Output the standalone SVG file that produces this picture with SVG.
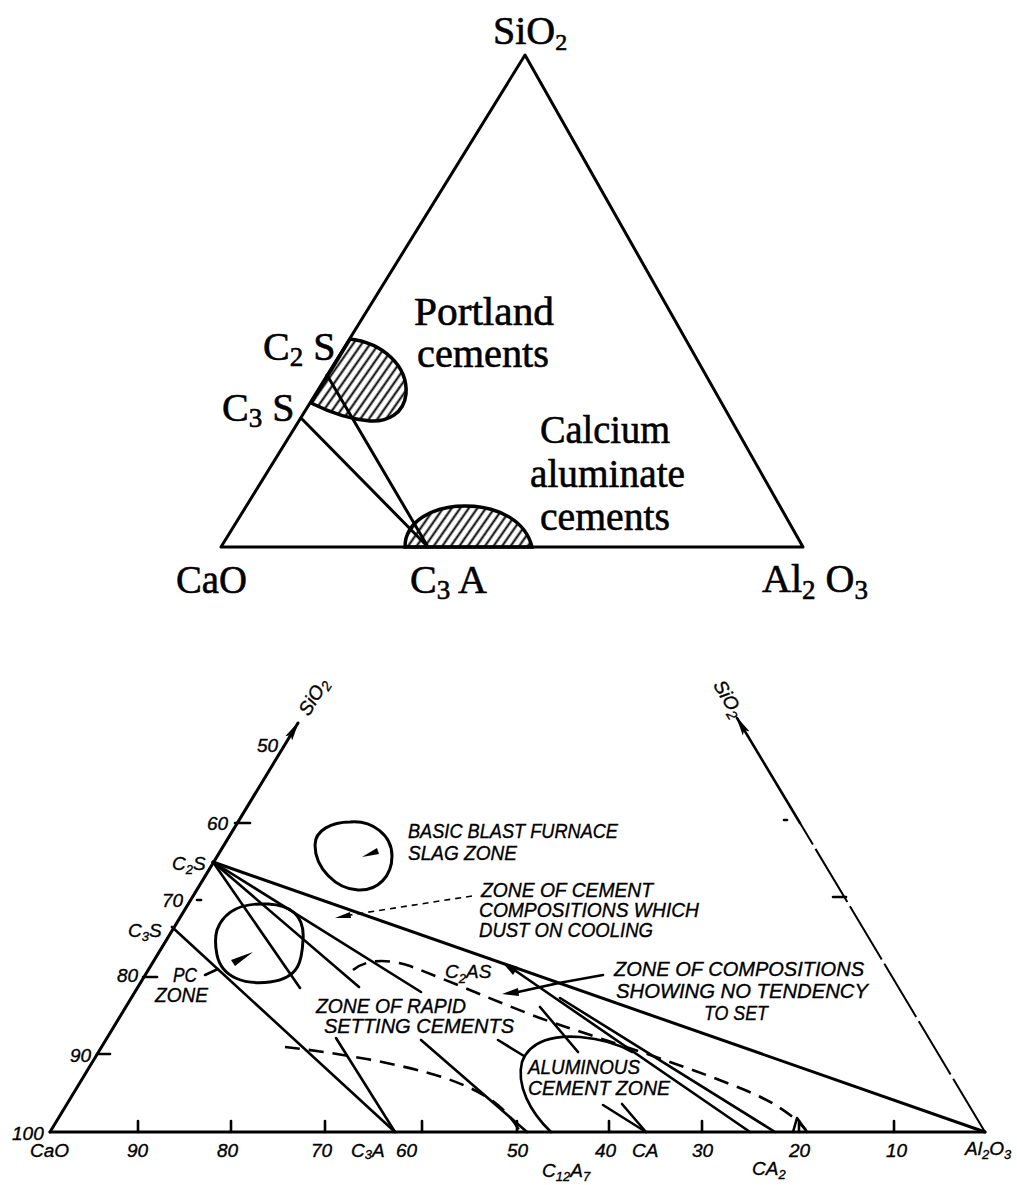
<svg xmlns="http://www.w3.org/2000/svg" width="1017" height="1185" viewBox="0 0 1017 1185">
<defs>
<style>
.serif{font-family:"Liberation Serif","Times New Roman",serif;font-size:40px;fill:#000;stroke:#000;stroke-width:0.6}
.hand{font-family:"Liberation Sans",Arial,sans-serif;font-style:italic;font-size:20px;fill:#000;stroke:#000;stroke-width:0.35}
.num{font-family:"Liberation Sans",Arial,sans-serif;font-style:italic;font-size:19px;fill:#000;stroke:#000;stroke-width:0.35}
.ln{stroke:#000;stroke-width:3;fill:none;stroke-linecap:round;stroke-linejoin:round}
.ln2{stroke:#000;stroke-width:2.6;fill:none;stroke-linecap:round;stroke-linejoin:round}
.dash{stroke:#000;stroke-width:2.6;fill:none;stroke-dasharray:15 9}
.thin{stroke:#000;stroke-width:1.6;fill:none}
.zone{stroke:#000;stroke-width:3.5;fill:url(#hatch)}
.head{fill:#000;stroke:none}
</style>
<pattern id="hatch" patternUnits="userSpaceOnUse" width="7" height="7" patternTransform="rotate(35)"><line x1="3.5" y1="0" x2="3.5" y2="7" stroke="#000" stroke-width="2"/></pattern>
<marker id="axArrow" markerUnits="userSpaceOnUse" markerWidth="20" markerHeight="10" refX="18" refY="5" orient="auto"><path d="M0,1 L20,5 L0,9 L4,5 z" fill="#000"/></marker>
</defs>
<rect width="1017" height="1185" fill="#fff"/>

<g id="top-diagram">
  <g id="top-zones">
    <path id="portland-zone" class="zone" d="M350,339 C383,343 408,366 406,394 C404,414 387,422 370,421 C347,419 327,411 311,403 Z"/>
    <path id="calcium-aluminate-zone" class="zone" d="M405,547 C405,521 433,506 465,506 C500,506 526,522 532,547 Z"/>
  </g>
  <g id="top-lines">
    <polygon class="ln" points="525,55 221,547 803,547"/>
    <line class="ln" x1="301" y1="418" x2="428" y2="547"/>
    <line class="ln" x1="327" y1="375" x2="428" y2="547"/>
  </g>
  <g id="top-labels">
    <text class="serif" x="493" y="44" font-size="36">SiO<tspan font-size="24" dy="6">2</tspan></text>
    <text class="serif" x="414" y="325" font-size="35" textLength="140" lengthAdjust="spacingAndGlyphs">Portland</text>
    <text class="serif" x="417" y="367" font-size="35" textLength="132" lengthAdjust="spacingAndGlyphs">cements</text>
    <text class="serif" x="263" y="360">C<tspan font-size="27" dy="6">2</tspan><tspan dy="-6"> S</tspan></text>
    <text class="serif" x="222" y="421">C<tspan font-size="27" dy="6">3</tspan><tspan dy="-6"> S</tspan></text>
    <text class="serif" x="540" y="443" textLength="130" lengthAdjust="spacingAndGlyphs">Calcium</text>
    <text class="serif" x="530" y="487" textLength="155" lengthAdjust="spacingAndGlyphs">aluminate</text>
    <text class="serif" x="540" y="530" textLength="130" lengthAdjust="spacingAndGlyphs">cements</text>
    <text class="serif" x="176" y="593" textLength="71" lengthAdjust="spacingAndGlyphs">CaO</text>
    <text class="serif" x="410" y="593">C<tspan font-size="27" dy="6">3</tspan><tspan dy="-6"> A</tspan></text>
    <text class="serif" x="762" y="592">Al<tspan font-size="27" dy="7">2</tspan><tspan dy="-7"> O</tspan><tspan font-size="27" dy="7">3</tspan></text>
  </g>
</g>

<g id="bottom-diagram">
  <g id="axes">
    <line class="ln" x1="50" y1="1132" x2="985" y2="1132"/>
    <line class="ln" x1="50" y1="1132" x2="298" y2="723" marker-end="url(#axArrow)"/>
    <line class="ln2" stroke-width="2.2" x1="800" y1="823" x2="737" y2="718" marker-end="url(#axArrow)"/>
    <line stroke="#000" stroke-width="2" stroke-dasharray="62 5" x1="985" y1="1132" x2="800" y2="823"/>
    <g id="base-ticks" class="ln2">
      <line x1="138" y1="1121" x2="138" y2="1132"/>
      <line x1="231" y1="1121" x2="231" y2="1132"/>
      <line x1="325" y1="1121" x2="325" y2="1132"/>
      <line x1="422" y1="1121" x2="422" y2="1132"/>
      <line x1="517" y1="1121" x2="517" y2="1132"/>
      <line x1="609" y1="1121" x2="609" y2="1132"/>
      <line x1="702" y1="1121" x2="702" y2="1132"/>
      <line x1="799" y1="1121" x2="799" y2="1132"/>
      <line x1="894" y1="1121" x2="894" y2="1132"/>
    </g>
    <g id="side-ticks" class="ln2">
      <line x1="97" y1="1054" x2="110" y2="1054"/>
      <line x1="143" y1="977" x2="157" y2="977"/>
      <line x1="197" y1="900" x2="201" y2="900"/>
      <line x1="235" y1="823" x2="250" y2="823"/>
      <line x1="833" y1="897" x2="846" y2="897"/>
      <line x1="784" y1="820" x2="787" y2="820"/>
    </g>
  </g>

  <g id="zones">
    <path id="blast-furnace-zone" class="ln" d="M350,822 C372,820 392,835 392,856 C392,876 378,891 358,890 C336,889 315,868 315,845 C315,830 332,822 350,822 Z"/>
    <path id="pc-zone" class="ln" d="M217,930 C225,908 245,903 268,904 C290,905 305,915 303,940 C302,960 300,978 270,982 C245,985 222,978 217,955 C215,945 215,937 217,930 Z"/>
    <path id="aluminous-zone" class="ln2" d="M551,1132 C530,1112 516,1085 522,1062 C530,1040 555,1035 580,1037 C603,1039 620,1045 632,1052"/>
  </g>

  <g id="connectors">
    <line class="ln" x1="213" y1="862" x2="985" y2="1132"/>
    <line class="ln2" x1="213" y1="862" x2="300" y2="988"/>
    <line class="ln2" x1="336" y1="1038" x2="395" y2="1132"/>
    <line class="ln2" x1="213" y1="862" x2="359" y2="987"/>
    <line class="ln2" x1="421" y1="1040" x2="527" y2="1132"/>
    <line class="ln2" x1="213" y1="862" x2="421" y2="992"/>
    <line class="ln2" x1="498" y1="1040" x2="524" y2="1056"/>
    <line class="ln2" x1="603" y1="1105" x2="646" y2="1132"/>
    <line class="ln2" x1="172" y1="927" x2="395" y2="1132"/>
    <line class="ln2" x1="510" y1="967" x2="750" y2="1132"/>
    <line class="ln2" x1="560" y1="998" x2="775" y2="1132"/>
    <line class="ln2" x1="540" y1="1007" x2="578" y2="1052"/>
    <line class="ln2" x1="622" y1="1104" x2="646" y2="1132"/>
    <path class="dash" d="M285,1047 C330,1052 400,1063 445,1078 C480,1090 505,1105 519,1130"/>
    <path class="dash" d="M353,970 C365,960 385,958 410,966 C460,985 520,1012 560,1025 C620,1045 680,1064 740,1088 C770,1100 790,1112 806,1130"/>
    <polyline class="ln2" points="793,1132 797,1118 807,1132"/>
    <polygon class="head" points="502,962 518,967 513,975"/>
    <path class="ln2" d="M603,975 Q560,982 518,992"/>
    <polygon class="head" points="502,994 518,988 519,996"/>
    <line class="thin" stroke-dasharray="6 5" x1="472" y1="896" x2="350" y2="915"/>
    <polygon class="head" points="335,918 350,912 351,918"/>
    <line class="ln2" x1="205" y1="975" x2="218" y2="969"/>
    <polygon class="head" points="253,952 231,960 235,966"/>
    <polygon class="head" points="362,857 377,848 379,854"/>
  </g>

  <g id="axis-labels">
    <text class="num" transform="translate(319,700) rotate(-59)" text-anchor="middle" font-size="20">SiO<tspan font-size="14" dy="4">2</tspan></text>
    <text class="num" transform="translate(723,702) rotate(59)" text-anchor="middle" font-size="20">SiO<tspan font-size="14" dy="4">2</tspan></text>
    <text class="num" x="257" y="752">50</text>
    <text class="num" x="207" y="830">60</text>
    <text class="num" x="162" y="907">70</text>
    <text class="num" x="117" y="982">80</text>
    <text class="num" x="70" y="1062">90</text>
    <text class="num" x="12" y="1140">100</text>
    <text class="num" x="30" y="1157">CaO</text>
    <text class="num" x="127" y="1157">90</text>
    <text class="num" x="217" y="1157">80</text>
    <text class="num" x="311" y="1157">70</text>
    <text class="num" x="351" y="1157">C<tspan font-size="13" dy="2">3</tspan><tspan dy="-2">A</tspan></text>
    <text class="num" x="396" y="1157">60</text>
    <text class="num" x="507" y="1157">50</text>
    <text class="num" x="595" y="1157">40</text>
    <text class="num" x="632" y="1157">CA</text>
    <text class="num" x="692" y="1157">30</text>
    <text class="num" x="789" y="1157">20</text>
    <text class="num" x="886" y="1157">10</text>
    <text class="num" x="965" y="1155">Al<tspan font-size="13" dy="4">2</tspan><tspan dy="-4">O</tspan><tspan font-size="13" dy="4">3</tspan></text>
    <text class="num" x="542" y="1177">C<tspan font-size="13" dy="4">12</tspan><tspan dy="-4">A</tspan><tspan font-size="13" dy="4">7</tspan></text>
    <text class="num" x="752" y="1175">CA<tspan font-size="13" dy="4">2</tspan></text>
    <text class="num" x="172" y="870">C<tspan font-size="13" dy="4">2</tspan><tspan dy="-4">S</tspan></text>
    <text class="num" x="128" y="937">C<tspan font-size="13" dy="4">3</tspan><tspan dy="-4">S</tspan></text>
    <text class="num" x="445" y="978">C<tspan font-size="13" dy="5">2</tspan><tspan dy="-5">AS</tspan></text>
  </g>

  <g id="zone-labels">
    <text class="hand" x="408" y="838" textLength="210" lengthAdjust="spacingAndGlyphs">BASIC BLAST FURNACE</text>
    <text class="hand" x="408" y="860" textLength="109" lengthAdjust="spacingAndGlyphs">SLAG ZONE</text>
    <text class="hand" x="481" y="897" textLength="172" lengthAdjust="spacingAndGlyphs">ZONE OF CEMENT</text>
    <text class="hand" x="479" y="917" textLength="220" lengthAdjust="spacingAndGlyphs">COMPOSITIONS WHICH</text>
    <text class="hand" x="479" y="937" textLength="174" lengthAdjust="spacingAndGlyphs">DUST ON COOLING</text>
    <text class="hand" x="614" y="976" textLength="250" lengthAdjust="spacingAndGlyphs">ZONE OF COMPOSITIONS</text>
    <text class="hand" x="616" y="998" textLength="252" lengthAdjust="spacingAndGlyphs">SHOWING NO TENDENCY</text>
    <text class="hand" x="704" y="1020" textLength="64" lengthAdjust="spacingAndGlyphs">TO SET</text>
    <text class="hand" x="316" y="1013" textLength="150" lengthAdjust="spacingAndGlyphs">ZONE OF RAPID</text>
    <text class="hand" x="324" y="1033" textLength="190" lengthAdjust="spacingAndGlyphs">SETTING CEMENTS</text>
    <text class="hand" x="528" y="1074" textLength="112" lengthAdjust="spacingAndGlyphs">ALUMINOUS</text>
    <text class="hand" x="528" y="1095" textLength="142" lengthAdjust="spacingAndGlyphs">CEMENT ZONE</text>
    <text class="hand" x="173" y="982" textLength="24" lengthAdjust="spacingAndGlyphs">PC</text>
    <text class="hand" x="155" y="1002" textLength="53" lengthAdjust="spacingAndGlyphs">ZONE</text>
  </g>
</g>
</svg>
